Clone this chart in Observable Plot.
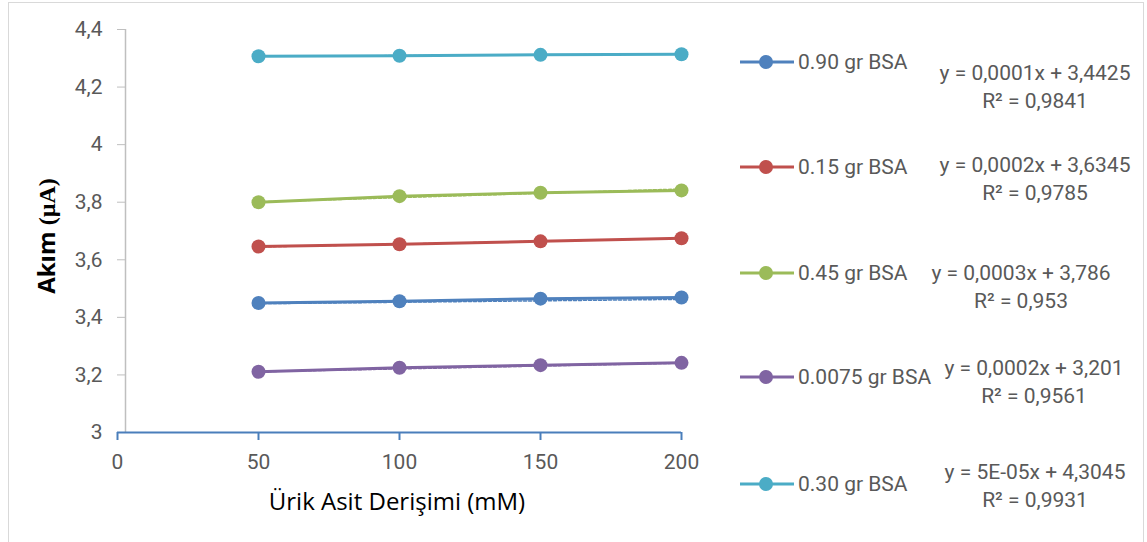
<!DOCTYPE html>
<html>
<head>
<meta charset="utf-8">
<script src="https://cdn.jsdelivr.net/npm/d3@7"></script>
<script src="https://cdn.jsdelivr.net/npm/@observablehq/plot@0.6"></script>
<style>
  html, body { margin: 0; padding: 0; background: #fff; }
  #page { position: relative; width: 1147px; height: 542px; overflow: hidden; }
  #frame { position: absolute; left: 8px; top: 2px; width: 1136px; height: 600px;
           border: 1px solid #d9d9d9; box-sizing: border-box; }
  #chart { position: absolute; left: 0; top: 0; }
  .ytitle { position: absolute; left: 45px; top: 236px; white-space: nowrap;
            transform: translate(-50%, -50%) rotate(-90deg);
            font: bold 24px "Open Sans", sans-serif; color: #000; }
  .ytitle .unit { font-family: "Liberation Serif", "DejaVu Serif", serif; }
  .xtitle { position: absolute; left: 397px; top: 500px; white-space: nowrap;
            transform: translate(-50%, -50%);
            font: 24px "Open Sans", sans-serif; color: #000; }
  .entry { position: absolute; left: 740px; height: 0; }
  .entry svg { position: absolute; left: 0; top: -8px; }
  .entry span { position: absolute; left: 58px; top: 0; transform: translateY(-50%);
                white-space: nowrap; font: 21px Roboto, sans-serif; color: #595959; }
  .eq { position: absolute; transform: translateX(-50%); text-align: center;
        white-space: nowrap; font: 21px Roboto, sans-serif; color: #595959; line-height: 28px; }
</style>
</head>
<body>
<div id="page">
  <div id="frame"></div>
  <div id="chart"></div>
  <div class="ytitle">Akım <span class="unit">(µA)</span></div>
  <div class="xtitle">Ürik Asit Derişimi (mM)</div>
  <div id="legend"></div>
</div>
<script>
// Uric acid concentration (mM) on x, measured current (µA) on y
const concentrations = [50, 100, 150, 200];
const seriesNames = ["0.90 gr BSA", "0.15 gr BSA", "0.45 gr BSA", "0.0075 gr BSA", "0.30 gr BSA"];
const seriesColors = ["#4f81bd", "#c0504d", "#9bbb59", "#8064a2", "#4bacc6"];

const current090 = [3.450, 3.456, 3.465, 3.469];
const current015 = [3.646, 3.654, 3.664, 3.675];
const current045 = [3.800, 3.821, 3.833, 3.841];
const current00075 = [3.211, 3.225, 3.234, 3.242];
const current030 = [4.307, 4.309, 4.312, 4.314];

// Linear trendline coefficients, as printed next to each legend entry
const slopes = [0.0001, 0.0002, 0.0003, 0.0002, 0.00005];
const intercepts = [3.4425, 3.6345, 3.786, 3.201, 4.3045];
const equationLabels = ["y = 0,0001x + 3,4425", "y = 0,0002x + 3,6345", "y = 0,0003x + 3,786",
                        "y = 0,0002x + 3,201", "y = 5E-05x + 4,3045"];
const r2Labels = ["R² = 0,9841", "R² = 0,9785", "R² = 0,953", "R² = 0,9561", "R² = 0,9931"];

const xTicks = [0, 50, 100, 150, 200];
const yTicks = [3, 3.2, 3.4, 3.6, 3.8, 4, 4.2, 4.4];

// Long-format tables for Plot
const allCurrents = [current090, current015, current045, current00075, current030];
const rows = seriesNames.flatMap((name, i) =>
  concentrations.map((c, j) => ({series: name, conc: c, current: allCurrents[i][j]})));
const trendRows = seriesNames.flatMap((name, i) =>
  [concentrations[0], concentrations[concentrations.length - 1]].map(c =>
    ({series: name, conc: c, current: intercepts[i] + slopes[i] * c})));

// Layout of the plotting area
const W = 730, H = 542;
const plotLeft = 117, plotRight = 681, plotTop = 29, plotBottom = 432;
const axisBlue = "#4a7ebb";
const comma = d => String(d).replace(".", ",");

const chart = Plot.plot({
  width: W, height: H,
  marginLeft: plotLeft, marginRight: W - plotRight, marginTop: plotTop, marginBottom: H - plotBottom,
  x: {domain: [0, 200], label: null},
  y: {domain: [3, 4.4], label: null},
  color: {domain: seriesNames, range: seriesColors},
  style: {fontFamily: "Roboto, sans-serif", fontSize: "21px", color: "#595959", background: "transparent", overflow: "visible"},
  marks: [
    Plot.ruleX([0], {dx: 8, stroke: "#bfbfbf", strokeWidth: 1.5}),
    Plot.axisY(yTicks, {tickSize: 8, dx: 8, tickPadding: 15, stroke: "#bfbfbf", fill: "#595959",
                        tickFormat: comma, label: null}),
    Plot.ruleY([3], {stroke: axisBlue, strokeWidth: 2}),
    Plot.axisX(xTicks, {tickSize: 8, tickPadding: 14, stroke: axisBlue, strokeWidth: 2, fill: "#595959",
                        label: null}),
    Plot.line(trendRows, {x: "conc", y: "current", z: "series", stroke: "series",
                          strokeWidth: 1.5, strokeDasharray: "3,2"}),
    Plot.line(rows, {x: "conc", y: "current", z: "series", stroke: "series", strokeWidth: 3}),
    Plot.dot(rows, {x: "conc", y: "current", fill: "series", r: 7})
  ]
});
document.getElementById("chart").appendChild(chart);

// Legend entries with their trendline equations
const entryY = [62, 167, 273, 377, 484];
const eqX = [1035, 1035, 1021, 1034, 1035];
const eqY = [59, 151, 259, 354, 458];
const legend = document.getElementById("legend");
seriesNames.forEach((name, i) => {
  const e = document.createElement("div");
  e.className = "entry";
  e.style.top = entryY[i] + "px";
  e.innerHTML = `<svg width="56" height="16"><line x1="0" x2="54" y1="8" y2="8" stroke="${seriesColors[i]}" stroke-width="3"/>` +
    `<circle cx="26" cy="8" r="7" fill="${seriesColors[i]}"/></svg><span>${name}</span>`;
  legend.appendChild(e);
  const q = document.createElement("div");
  q.className = "eq";
  q.style.left = eqX[i] + "px";
  q.style.top = eqY[i] + "px";
  q.innerHTML = `${equationLabels[i]}<br>${r2Labels[i]}`;
  legend.appendChild(q);
});
</script>
</body>
</html>
